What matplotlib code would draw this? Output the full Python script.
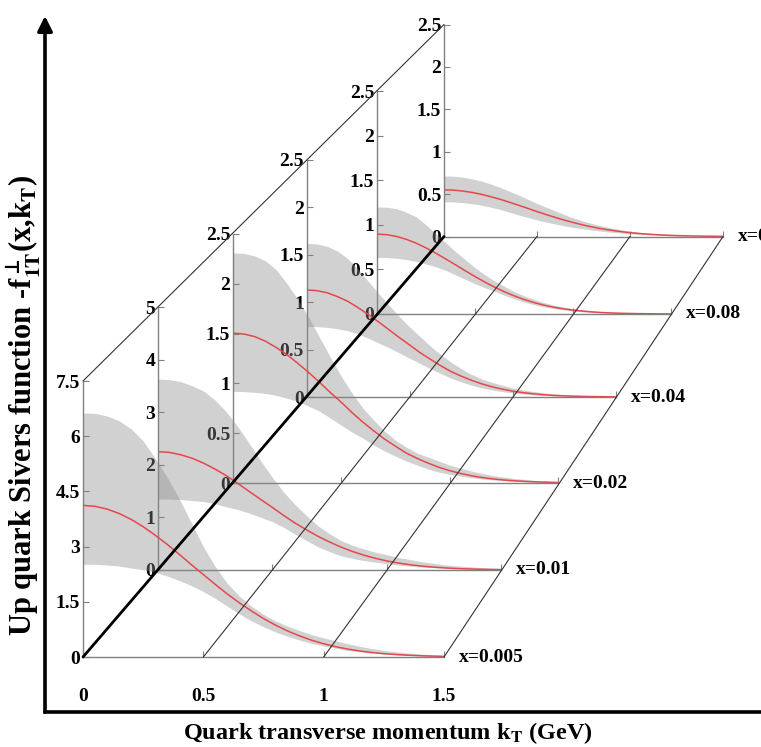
import matplotlib
matplotlib.use("Agg")
import matplotlib.pyplot as plt
from matplotlib.patches import ConnectionPatch
from matplotlib.ticker import FuncFormatter

plt.rcParams['font.family'] = ['Liberation Serif', 'DejaVu Serif']
plt.rcParams['font.weight'] = 'bold'
plt.rcParams['mathtext.fontset'] = 'stix'

# transverse momentum grid (GeV)
kt = [0.0, 0.05, 0.1, 0.15, 0.2, 0.25, 0.3, 0.35, 0.4, 0.45, 0.5, 0.55, 0.6, 0.65, 0.7, 0.75,
      0.8, 0.85, 0.9, 0.95, 1.0, 1.05, 1.1, 1.15, 1.2, 1.25, 1.3, 1.35, 1.4, 1.45, 1.5]

x_bins = ['x=0.005', 'x=0.01', 'x=0.02', 'x=0.04', 'x=0.08', 'x=0.16']
y_max = [7.5, 5, 2.5, 2.5, 2.5, 2.5]
y_ticks = [[0, 1.5, 3, 4.5, 6, 7.5],
           [0, 1, 2, 3, 4, 5],
           [0, 0.5, 1, 1.5, 2, 2.5],
           [0, 0.5, 1, 1.5, 2, 2.5],
           [0, 0.5, 1, 1.5, 2, 2.5],
           [0, 0.5, 1, 1.5, 2, 2.5]]
kt_ticks = [0, 0.5, 1, 1.5]

# central fit and error band for each x bin
mid_x005 = [4.12, 4.095, 4.02, 3.90, 3.74, 3.54, 3.31, 3.06, 2.79, 2.51, 2.24, 1.97, 1.71, 1.47, 1.25, 1.045,
            0.865, 0.707, 0.572, 0.456, 0.36, 0.28, 0.215, 0.163, 0.123, 0.091, 0.067, 0.048, 0.035, 0.024, 0.017]
up_x005 = [6.63, 6.62, 6.55, 6.42, 6.2, 5.87, 5.4, 4.88, 4.3, 3.65, 3.0, 2.45, 2.0, 1.65, 1.38, 1.16,
           0.98, 0.84, 0.72, 0.61, 0.52, 0.44, 0.36, 0.29, 0.23, 0.18, 0.14, 0.11, 0.08, 0.06, 0.04]
lo_x005 = [2.52, 2.52, 2.5, 2.47, 2.42, 2.37, 2.3, 2.2, 2.08, 1.94, 1.78, 1.59, 1.38, 1.17, 0.98, 0.82,
           0.68, 0.56, 0.46, 0.37, 0.3, 0.24, 0.18, 0.14, 0.11, 0.08, 0.06, 0.045, 0.03, 0.02, 0.015]

mid_x01 = [2.25, 2.236, 2.19, 2.124, 2.03, 1.917, 1.79, 1.643, 1.49, 1.339, 1.19, 1.036, 0.89, 0.762, 0.64, 0.532,
           0.436, 0.353, 0.282, 0.223, 0.173, 0.133, 0.101, 0.076, 0.056, 0.041, 0.029, 0.021, 0.015, 0.01, 0.007]
up_x01 = [3.63, 3.62, 3.58, 3.5, 3.4, 3.23, 3.0, 2.72, 2.4, 2.07, 1.76, 1.48, 1.24, 1.03, 0.84, 0.69,
          0.56, 0.47, 0.4, 0.34, 0.29, 0.24, 0.2, 0.16, 0.13, 0.1, 0.08, 0.065, 0.05, 0.04, 0.03]
lo_x01 = [1.35, 1.35, 1.34, 1.32, 1.3, 1.26, 1.2, 1.15, 1.08, 1.0, 0.92, 0.81, 0.68, 0.56, 0.44, 0.35,
          0.27, 0.22, 0.18, 0.15, 0.12, 0.095, 0.075, 0.058, 0.045, 0.034, 0.025, 0.018, 0.013, 0.009, 0.006]

mid_x02 = [1.505, 1.496, 1.47, 1.423, 1.36, 1.287, 1.2, 1.108, 1.01, 0.907, 0.81, 0.706, 0.61, 0.523, 0.44, 0.369,
           0.3, 0.247, 0.2, 0.158, 0.124, 0.096, 0.073, 0.055, 0.041, 0.03, 0.022, 0.016, 0.011, 0.008, 0.005]
up_x02 = [2.31, 2.305, 2.28, 2.23, 2.14, 2.0, 1.84, 1.66, 1.46, 1.26, 1.07, 0.9, 0.75, 0.63, 0.52, 0.43,
          0.36, 0.3, 0.26, 0.22, 0.18, 0.15, 0.12, 0.095, 0.075, 0.06, 0.045, 0.035, 0.025, 0.018, 0.012]
lo_x02 = [0.92, 0.918, 0.91, 0.9, 0.88, 0.85, 0.82, 0.77, 0.72, 0.65, 0.58, 0.51, 0.45, 0.38, 0.32, 0.27,
          0.22, 0.18, 0.14, 0.11, 0.088, 0.069, 0.053, 0.04, 0.03, 0.022, 0.016, 0.012, 0.008, 0.006, 0.004]

mid_x04 = [1.13, 1.122, 1.1, 1.059, 1.01, 0.943, 0.87, 0.792, 0.71, 0.628, 0.55, 0.47, 0.4, 0.332, 0.27, 0.221,
           0.177, 0.139, 0.108, 0.083, 0.062, 0.046, 0.034, 0.024, 0.017, 0.012, 0.0085, 0.006, 0.004, 0.0026, 0.002]
up_x04 = [1.62, 1.615, 1.59, 1.54, 1.46, 1.35, 1.22, 1.09, 0.97, 0.85, 0.74, 0.64, 0.54, 0.45, 0.37, 0.3,
          0.24, 0.19, 0.155, 0.125, 0.097, 0.075, 0.058, 0.044, 0.033, 0.025, 0.018, 0.013, 0.009, 0.006, 0.004]
lo_x04 = [0.744, 0.742, 0.735, 0.72, 0.7, 0.665, 0.62, 0.57, 0.52, 0.465, 0.41, 0.355, 0.3, 0.25, 0.2, 0.16,
          0.125, 0.097, 0.075, 0.057, 0.043, 0.032, 0.023, 0.017, 0.012, 0.009, 0.006, 0.004, 0.003, 0.002, 0.001]

mid_x08 = [0.896, 0.889, 0.869, 0.837, 0.794, 0.741, 0.682, 0.618, 0.552, 0.485, 0.42, 0.358, 0.301, 0.249, 0.203, 0.163,
           0.129, 0.1, 0.077, 0.058, 0.043, 0.032, 0.023, 0.016, 0.0114, 0.0079, 0.0054, 0.0036, 0.0024, 0.0015, 0.001]
up_x08 = [1.2, 1.197, 1.18, 1.14, 1.09, 1.0, 0.9, 0.8, 0.7, 0.61, 0.52, 0.44, 0.37, 0.31, 0.25, 0.205,
          0.165, 0.13, 0.1, 0.078, 0.06, 0.046, 0.034, 0.025, 0.018, 0.013, 0.009, 0.006, 0.004, 0.003, 0.002]
lo_x08 = [0.635, 0.633, 0.625, 0.61, 0.59, 0.56, 0.53, 0.49, 0.44, 0.39, 0.34, 0.295, 0.255, 0.21, 0.17, 0.135,
          0.105, 0.082, 0.062, 0.047, 0.035, 0.025, 0.018, 0.013, 0.009, 0.006, 0.004, 0.003, 0.002, 0.0015, 0.001]

mid_x16 = [0.55, 0.547, 0.536, 0.52, 0.498, 0.47, 0.44, 0.405, 0.369, 0.332, 0.294, 0.258, 0.224, 0.191, 0.162, 0.135,
           0.111, 0.09, 0.073, 0.058, 0.045, 0.035, 0.027, 0.02, 0.015, 0.011, 0.008, 0.0058, 0.004, 0.0029, 0.002]
up_x16 = [0.714, 0.712, 0.7, 0.68, 0.655, 0.62, 0.58, 0.535, 0.49, 0.44, 0.39, 0.345, 0.3, 0.255, 0.215, 0.18,
          0.15, 0.124, 0.1, 0.08, 0.063, 0.05, 0.038, 0.029, 0.022, 0.016, 0.012, 0.009, 0.006, 0.004, 0.003]
lo_x16 = [0.41, 0.408, 0.4, 0.387, 0.37, 0.347, 0.32, 0.288, 0.255, 0.225, 0.195, 0.17, 0.145, 0.124, 0.105, 0.09,
          0.075, 0.062, 0.05, 0.04, 0.032, 0.025, 0.019, 0.015, 0.011, 0.008, 0.006, 0.004, 0.003, 0.002, 0.0015]

central = [mid_x005, mid_x01, mid_x02, mid_x04, mid_x08, mid_x16]
upper = [up_x005, up_x01, up_x02, up_x04, up_x08, up_x16]
lower = [lo_x005, lo_x01, lo_x02, lo_x04, lo_x08, lo_x16]

W, H = 761, 747
fig = plt.figure(figsize=(W / 100, H / 100), dpi=100)

# panel frames in pixels: left, baseline (from top), width, height
boxes = [(83, 657, 361, 276), (158, 570, 343, 263), (233, 483, 325, 249),
         (306.5, 397, 309, 237), (377, 314, 294, 223), (444, 236.5, 279, 212)]

AXCOL = '#808080'
fmt = FuncFormatter(lambda v, p: '%g' % v)

# outer axes with arrow
frame = fig.add_axes([45 / W, (H - 712) / H, 1.0, (712 - 16) / H])
frame.set_facecolor('none')
frame.set_zorder(-1)
for s in ['top', 'right', 'left']:
    frame.spines[s].set_visible(False)
frame.spines['bottom'].set_linewidth(2.6)
frame.set_xticks([])
frame.set_yticks([])
frame.annotate('', xy=(0, 1.0), xytext=(0, 0), xycoords='axes fraction',
               arrowprops=dict(arrowstyle='-|>', lw=2.6, color='k', mutation_scale=22,
                               shrinkA=0, shrinkB=0))
frame.set_ylabel(r'Up quark Sivers function -f$_{\mathbf{1T}}^{\bot}$(x,k$_{\mathbf{T}}$)',
                 fontsize=22, fontweight='bold')
frame.yaxis.set_label_coords(-0.003, 0.44)
fig.text(388 / W, 1 - 733 / H, r'Quark transverse momentum k$_{\mathbf{T}}$ (GeV)',
         fontsize=17.5, fontweight='bold', ha='center', va='center')

axes = []
for i in reversed(range(6)):
    x0, yb, w, h = boxes[i]
    ax = fig.add_axes([x0 / W, (H - yb) / H, w / W, h / H])
    ax.set_facecolor('none')
    ax.fill_between(kt, lower[i], upper[i], color='#8c8c8c', alpha=0.4, lw=0)
    ax.plot(kt, central[i], color='#e5484b', lw=1.1)
    ax.set_xlim(0, 1.5)
    ax.set_ylim(0, y_max[i])
    for s in ['top', 'right']:
        ax.spines[s].set_visible(False)
    for s in ['left', 'bottom']:
        ax.spines[s].set_color(AXCOL)
        ax.spines[s].set_linewidth(1.0)
    ax.set_yticks(y_ticks[i])
    ax.yaxis.set_major_formatter(fmt)
    ax.set_xticks(kt_ticks)
    ax.xaxis.set_major_formatter(fmt)
    ax.tick_params(axis='both', direction='in', length=4, color=AXCOL, labelsize=14)
    ax.tick_params(axis='y', pad=2)
    if i == 0:
        ax.tick_params(axis='x', pad=22)
    else:
        ax.tick_params(axis='x', labelbottom=False)
    ax.annotate(x_bins[i], xy=(1.5, 0), xytext=(11, 0), textcoords='offset points',
                va='center', ha='left', fontsize=14, annotation_clip=False)
    axes.insert(0, ax)

# lines running in depth from the front panel to the back panel
front, back = axes[0], axes[-1]
for k in kt_ticks:
    con = ConnectionPatch(xyA=(k, 0), coordsA=front.transData,
                          xyB=(k, 0), coordsB=back.transData,
                          color='k' if k == 0 else '#333333',
                          lw=2.0 if k == 0 else 0.8)
    fig.add_artist(con)
top = ConnectionPatch(xyA=(0, y_max[0]), coordsA=front.transData,
                      xyB=(0, y_max[-1]), coordsB=back.transData,
                      color='#333333', lw=0.8)
fig.add_artist(top)

fig.savefig('out.png', dpi=100)
